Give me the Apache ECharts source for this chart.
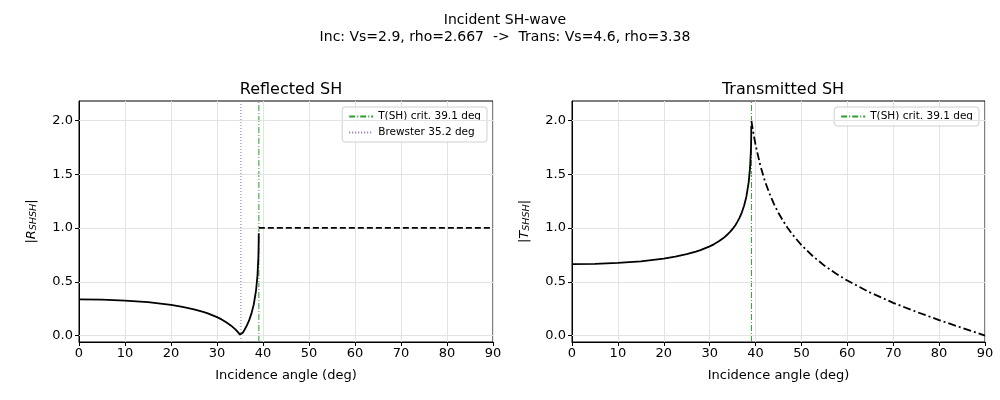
<!DOCTYPE html>
<html>
<head>
<meta charset="utf-8">
<script src="https://cdn.jsdelivr.net/npm/echarts@6/dist/echarts.min.js"></script>
<style>
  html, body { margin: 0; padding: 0; background: #fff; }
  #chart { width: 1000px; height: 400px; }
</style>
</head>
<body>
<div id="chart"></div>
<script>
// incidence angles before / after the SH critical angle
const anglesPre = [0, 5, 10, 15, 20, 22.5, 25, 27, 28, 30, 31, 32, 33, 34, 34.5, 35, 35.2, 35.6, 36, 36.5, 37, 37.5, 38, 38.5, 38.8, 39, 39.05, 39.08];
const reflPre = [0.336, 0.333, 0.325, 0.310, 0.285, 0.267, 0.244, 0.220, 0.206, 0.171, 0.150, 0.124, 0.094, 0.057, 0.034, 0.009, 0.002, 0.026, 0.054, 0.094, 0.143, 0.206, 0.291, 0.423, 0.558, 0.733, 0.825, 0.951];
const transPre = [0.664, 0.667, 0.675, 0.690, 0.715, 0.733, 0.756, 0.780, 0.794, 0.829, 0.850, 0.876, 0.906, 0.944, 0.966, 0.991, 1.002, 1.026, 1.054, 1.094, 1.143, 1.206, 1.291, 1.423, 1.558, 1.733, 1.825, 1.951];

const anglesPost = [39.1, 39.3, 39.6, 40, 41, 42, 43, 44, 45, 46, 47, 48, 50, 52.5, 55, 57.5, 60, 65, 70, 75, 80, 85, 90];
const reflPost = [1, 1, 1, 1, 1, 1, 1, 1, 1, 1, 1, 1, 1, 1, 1, 1, 1, 1, 1, 1, 1, 1, 1];
const transPost = [1.995, 1.939, 1.864, 1.773, 1.587, 1.441, 1.323, 1.223, 1.139, 1.065, 1.000, 0.941, 0.841, 0.737, 0.650, 0.576, 0.511, 0.399, 0.304, 0.221, 0.144, 0.071, 0.0];

const critAngle = 39.1;
const brewsterAngle = 35.2;
const yTicks = [0.0, 0.5, 1.0, 1.5, 2.0];
const Y_MIN = -0.06;
const Y_MAX = 2.18;

const FONT = "DejaVu Sans";
const CRIT_NAME = "T(SH) crit. " + critAngle + " deg";
const BREW_NAME = "Brewster " + brewsterAngle + " deg";

const zip = (xs, ys) => xs.map((x, i) => [x, ys[i]]);

const makeX = (gridIndex) => ({
  type: "value",
  gridIndex: gridIndex,
  min: 0,
  max: 90,
  interval: 10,
  name: "Incidence angle (deg)",
  nameLocation: "middle",
  nameGap: 27,
  nameTextStyle: { fontFamily: FONT, fontSize: 13, color: "#000" },
  axisLine: { show: true, onZero: false, lineStyle: { color: "#000", width: 1 } },
  axisTick: { show: true, inside: false, length: 4, lineStyle: { color: "#000" } },
  axisLabel: { fontFamily: FONT, fontSize: 13, color: "#000", margin: 5 },
  splitLine: { show: true, lineStyle: { color: "#e3e3e3", width: 1 } },
});

const makeY = (gridIndex, letter) => ({
  type: "value",
  gridIndex: gridIndex,
  min: Y_MIN,
  max: Y_MAX,
  name: "|{i|" + letter + "}{s|SHSH}|",
  nameLocation: "middle",
  nameGap: 40,
  nameRotate: 90,
  nameTextStyle: {
    fontFamily: FONT,
    fontSize: 13,
    color: "#000",
    rich: {
      i: { fontFamily: FONT, fontSize: 13, fontStyle: "italic", color: "#000" },
      s: { fontFamily: FONT, fontSize: 9.5, fontStyle: "italic", color: "#000", padding: [5, 0, 0, 0] },
    },
  },
  axisLine: { show: true, onZero: false, lineStyle: { color: "#000", width: 1 } },
  axisTick: { show: true, inside: false, length: 4, lineStyle: { color: "#000" }, customValues: yTicks },
  axisLabel: {
    fontFamily: FONT,
    fontSize: 13,
    color: "#000",
    margin: 6,
    customValues: yTicks,
    formatter: (v) => v.toFixed(1),
  },
  splitLine: { show: false },
});

// horizontal grid lines at the y tick values
const hGrid = (xi, yi) => ({
  type: "line",
  xAxisIndex: xi,
  yAxisIndex: yi,
  data: [],
  silent: true,
  markLine: {
    silent: true,
    symbol: "none",
    label: { show: false },
    lineStyle: { color: "#e3e3e3", width: 1, type: "solid" },
    data: yTicks.map((v) => ({ yAxis: v })),
    animation: false,
  },
});

const vLine = (xi, yi, x, name, color, dash) => ({
  type: "line",
  name: name,
  xAxisIndex: xi,
  yAxisIndex: yi,
  data: [[x, Y_MIN], [x, Y_MAX]],
  showSymbol: false,
  symbol: "none",
  lineStyle: { color: color, width: 1, type: dash },
  itemStyle: { color: color },
  z: 3,
});

const curve = (xi, yi, xs, ys, dash) => ({
  type: "line",
  xAxisIndex: xi,
  yAxisIndex: yi,
  data: zip(xs, ys),
  showSymbol: false,
  symbol: "none",
  lineStyle: { color: "#000", width: 1.8, type: dash },
  z: 5,
});

const legendBase = {
  orient: "vertical",
  top: 107,
  itemWidth: 24,
  itemHeight: 8,
  itemGap: 5,
  padding: [4, 6, 4, 6],
  borderColor: "#d0d0d0",
  borderWidth: 1,
  borderRadius: 3,
  backgroundColor: "rgba(255,255,255,0.8)",
  itemStyle: { opacity: 0 },
  textStyle: { fontFamily: FONT, fontSize: 10.5, color: "#000" },
};

const chart = echarts.init(document.getElementById("chart"));
chart.setOption({
  animation: false,
  backgroundColor: "#fff",
  title: [
    {
      text: "Incident SH-wave\nInc: Vs=2.9, rho=2.667  ->  Trans: Vs=4.6, rho=3.38",
      left: 500,
      top: 7,
      textAlign: "center",
      textStyle: { fontFamily: FONT, fontSize: 14, fontWeight: "normal", color: "#000", lineHeight: 17 },
    },
    {
      text: "Reflected SH",
      left: 286,
      top: 77,
      textAlign: "center",
      textStyle: { fontFamily: FONT, fontSize: 16, fontWeight: "normal", color: "#000" },
    },
    {
      text: "Transmitted SH",
      left: 778,
      top: 77,
      textAlign: "center",
      textStyle: { fontFamily: FONT, fontSize: 16, fontWeight: "normal", color: "#000" },
    },
  ],
  grid: [
    { left: 79, top: 101, width: 414, height: 241, show: true, borderColor: "#000", borderWidth: 1, backgroundColor: "transparent" },
    { left: 572, top: 101, width: 413, height: 241, show: true, borderColor: "#000", borderWidth: 1, backgroundColor: "transparent" },
  ],
  legend: [
    Object.assign({}, legendBase, { right: 513, data: [CRIT_NAME, BREW_NAME] }),
    Object.assign({}, legendBase, { right: 21, data: [CRIT_NAME] }),
  ],
  xAxis: [makeX(0), makeX(1)],
  yAxis: [makeY(0, "R"), makeY(1, "T")],
  series: [
    hGrid(0, 0),
    hGrid(1, 1),
    vLine(0, 0, critAngle, CRIT_NAME, "#2ca02c", [6, 2, 1, 2]),
    vLine(0, 0, brewsterAngle, BREW_NAME, "#9467bd", [1, 2]),
    vLine(1, 1, critAngle, CRIT_NAME, "#2ca02c", [6, 2, 1, 2]),
    curve(0, 0, anglesPre, reflPre, "solid"),
    curve(0, 0, anglesPost, reflPost, [6, 3]),
    curve(1, 1, anglesPre, transPre, "solid"),
    curve(1, 1, anglesPost, transPost, [8, 3, 2, 3]),
  ],
});
</script>
</body>
</html>
